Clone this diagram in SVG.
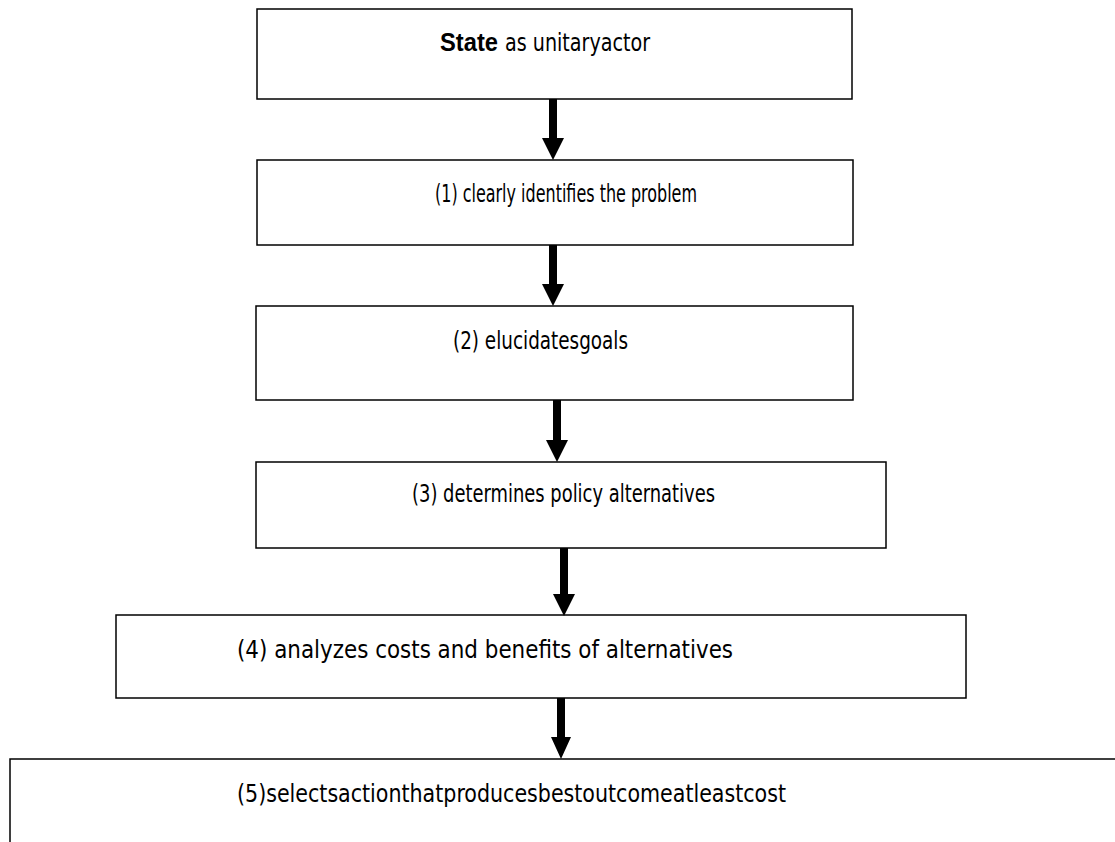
<svg xmlns="http://www.w3.org/2000/svg" width="1115" height="842" viewBox="0 0 1115 842">
  <style>
    .box { fill: #ffffff; stroke: #000000; stroke-width: 1.5; }
    .label { font-family: "DejaVu Sans Condensed", "Liberation Sans Narrow", "Liberation Sans", sans-serif; font-size: 25px; fill: #000000; }
    .bold { font-family: "Liberation Sans", sans-serif; font-weight: bold; }
    .arrow { fill: #000000; stroke: none; }
  </style>
  <rect width="1115" height="842" fill="#ffffff"/>

  <!-- process steps, top to bottom -->
  <g id="node-state">
    <rect class="box" x="257" y="9" width="595" height="90"/>
    <text class="label" y="51"><tspan class="bold" x="440" textLength="58" lengthAdjust="spacingAndGlyphs">State</tspan><tspan x="505" textLength="145" lengthAdjust="spacingAndGlyphs">as unitaryactor</tspan></text>
  </g>
  <g id="node-step1">
    <rect class="box" x="257" y="160" width="596" height="85"/>
    <text class="label" x="435" y="202" textLength="262" lengthAdjust="spacingAndGlyphs">(1) clearly identifies the problem</text>
  </g>
  <g id="node-step2">
    <rect class="box" x="256" y="306" width="597" height="94"/>
    <text class="label" x="453" y="349" textLength="175" lengthAdjust="spacingAndGlyphs">(2) elucidatesgoals</text>
  </g>
  <g id="node-step3">
    <rect class="box" x="256" y="462" width="630" height="86"/>
    <text class="label" x="412" y="502" textLength="303" lengthAdjust="spacingAndGlyphs">(3) determines policy alternatives</text>
  </g>
  <g id="node-step4">
    <rect class="box" x="116" y="615" width="850" height="83"/>
    <text class="label" x="237" y="658" textLength="496" lengthAdjust="spacingAndGlyphs">(4) analyzes costs and benefits of alternatives</text>
  </g>
  <g id="node-step5">
    <rect class="box" x="10" y="759" width="1120" height="100"/>
    <text class="label" x="237" y="802" textLength="549" lengthAdjust="spacingAndGlyphs">(5)selectsactionthatproducesbestoutcomeatleastcost</text>
  </g>

  <!-- block arrows between steps -->
  <g id="connectors">
    <polygon class="arrow" points="549,99 557,99 557,138 564,138 553,160 542,138 549,138"/>
    <polygon class="arrow" points="549,245 557,245 557,284 564,284 553,306 542,284 549,284"/>
    <polygon class="arrow" points="553,400 561,400 561,440 568,440 557,462 546,440 553,440"/>
    <polygon class="arrow" points="560,548 568,548 568,594 575,594 564,616 553,594 560,594"/>
    <polygon class="arrow" points="557,698 565,698 565,737 571,737 561,759 551,737 557,737"/>
  </g>
</svg>
